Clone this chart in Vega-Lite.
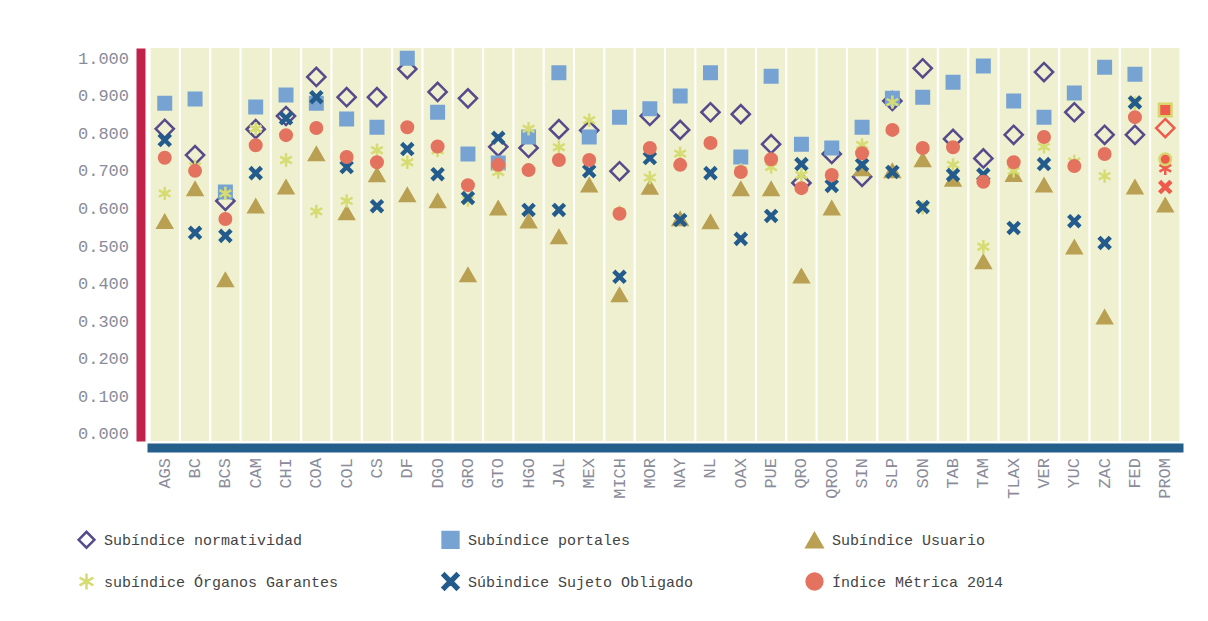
{
  "$schema": "https://vega.github.io/schema/vega-lite/v6.json",
  "width": 1036,
  "height": 393,
  "autosize": {"type": "none"},
  "padding": {"left": 147, "top": 48, "right": 25, "bottom": 180},
  "background": "white",
  "config": {"view": {"stroke": null}, "font": "Liberation Mono"},
  "data": {"values": [
    {"estado":"AGS","serie":"Subíndice normatividad","valor":0.812},
    {"estado":"BC","serie":"Subíndice normatividad","valor":0.742},
    {"estado":"BCS","serie":"Subíndice normatividad","valor":0.620},
    {"estado":"CAM","serie":"Subíndice normatividad","valor":0.811},
    {"estado":"CHI","serie":"Subíndice normatividad","valor":0.846},
    {"estado":"COA","serie":"Subíndice normatividad","valor":0.950},
    {"estado":"COL","serie":"Subíndice normatividad","valor":0.896},
    {"estado":"CS","serie":"Subíndice normatividad","valor":0.896},
    {"estado":"DF","serie":"Subíndice normatividad","valor":0.971},
    {"estado":"DGO","serie":"Subíndice normatividad","valor":0.910},
    {"estado":"GRO","serie":"Subíndice normatividad","valor":0.893},
    {"estado":"GTO","serie":"Subíndice normatividad","valor":0.764},
    {"estado":"HGO","serie":"Subíndice normatividad","valor":0.761},
    {"estado":"JAL","serie":"Subíndice normatividad","valor":0.811},
    {"estado":"MEX","serie":"Subíndice normatividad","valor":0.808},
    {"estado":"MICH","serie":"Subíndice normatividad","valor":0.699},
    {"estado":"MOR","serie":"Subíndice normatividad","valor":0.846},
    {"estado":"NAY","serie":"Subíndice normatividad","valor":0.809},
    {"estado":"NL","serie":"Subíndice normatividad","valor":0.856},
    {"estado":"OAX","serie":"Subíndice normatividad","valor":0.851},
    {"estado":"PUE","serie":"Subíndice normatividad","valor":0.771},
    {"estado":"QRO","serie":"Subíndice normatividad","valor":0.668},
    {"estado":"QROO","serie":"Subíndice normatividad","valor":0.745},
    {"estado":"SIN","serie":"Subíndice normatividad","valor":0.684},
    {"estado":"SLP","serie":"Subíndice normatividad","valor":0.886},
    {"estado":"SON","serie":"Subíndice normatividad","valor":0.973},
    {"estado":"TAB","serie":"Subíndice normatividad","valor":0.785},
    {"estado":"TAM","serie":"Subíndice normatividad","valor":0.733},
    {"estado":"TLAX","serie":"Subíndice normatividad","valor":0.796},
    {"estado":"VER","serie":"Subíndice normatividad","valor":0.963},
    {"estado":"YUC","serie":"Subíndice normatividad","valor":0.856},
    {"estado":"ZAC","serie":"Subíndice normatividad","valor":0.796},
    {"estado":"FED","serie":"Subíndice normatividad","valor":0.796},
    {"estado":"PROM","serie":"Subíndice normatividad","valor":0.814},

    {"estado":"AGS","serie":"Subíndice portales","valor":0.880},
    {"estado":"BC","serie":"Subíndice portales","valor":0.891},
    {"estado":"BCS","serie":"Subíndice portales","valor":0.644},
    {"estado":"CAM","serie":"Subíndice portales","valor":0.870},
    {"estado":"CHI","serie":"Subíndice portales","valor":0.902},
    {"estado":"COA","serie":"Subíndice portales","valor":0.880},
    {"estado":"COL","serie":"Subíndice portales","valor":0.838},
    {"estado":"CS","serie":"Subíndice portales","valor":0.816},
    {"estado":"DF","serie":"Subíndice portales","valor":1.000},
    {"estado":"DGO","serie":"Subíndice portales","valor":0.856},
    {"estado":"GRO","serie":"Subíndice portales","valor":0.745},
    {"estado":"GTO","serie":"Subíndice portales","valor":0.721},
    {"estado":"HGO","serie":"Subíndice portales","valor":0.790},
    {"estado":"JAL","serie":"Subíndice portales","valor":0.961},
    {"estado":"MEX","serie":"Subíndice portales","valor":0.790},
    {"estado":"MICH","serie":"Subíndice portales","valor":0.843},
    {"estado":"MOR","serie":"Subíndice portales","valor":0.865},
    {"estado":"NAY","serie":"Subíndice portales","valor":0.899},
    {"estado":"NL","serie":"Subíndice portales","valor":0.961},
    {"estado":"OAX","serie":"Subíndice portales","valor":0.737},
    {"estado":"PUE","serie":"Subíndice portales","valor":0.952},
    {"estado":"QRO","serie":"Subíndice portales","valor":0.771},
    {"estado":"QROO","serie":"Subíndice portales","valor":0.761},
    {"estado":"SIN","serie":"Subíndice portales","valor":0.816},
    {"estado":"SLP","serie":"Subíndice portales","valor":0.893},
    {"estado":"SON","serie":"Subíndice portales","valor":0.896},
    {"estado":"TAB","serie":"Subíndice portales","valor":0.936},
    {"estado":"TAM","serie":"Subíndice portales","valor":0.979},
    {"estado":"TLAX","serie":"Subíndice portales","valor":0.886},
    {"estado":"VER","serie":"Subíndice portales","valor":0.843},
    {"estado":"YUC","serie":"Subíndice portales","valor":0.907},
    {"estado":"ZAC","serie":"Subíndice portales","valor":0.976},
    {"estado":"FED","serie":"Subíndice portales","valor":0.957},
    {"estado":"PROM","serie":"Subíndice portales","valor":0.862},

    {"estado":"AGS","serie":"Subíndice Usuario","valor":0.565},
    {"estado":"BC","serie":"Subíndice Usuario","valor":0.652},
    {"estado":"BCS","serie":"Subíndice Usuario","valor":0.410},
    {"estado":"CAM","serie":"Subíndice Usuario","valor":0.606},
    {"estado":"CHI","serie":"Subíndice Usuario","valor":0.657},
    {"estado":"COA","serie":"Subíndice Usuario","valor":0.745},
    {"estado":"COL","serie":"Subíndice Usuario","valor":0.588},
    {"estado":"CS","serie":"Subíndice Usuario","valor":0.689},
    {"estado":"DF","serie":"Subíndice Usuario","valor":0.636},
    {"estado":"DGO","serie":"Subíndice Usuario","valor":0.620},
    {"estado":"GRO","serie":"Subíndice Usuario","valor":0.423},
    {"estado":"GTO","serie":"Subíndice Usuario","valor":0.601},
    {"estado":"HGO","serie":"Subíndice Usuario","valor":0.566},
    {"estado":"JAL","serie":"Subíndice Usuario","valor":0.524},
    {"estado":"MEX","serie":"Subíndice Usuario","valor":0.662},
    {"estado":"MICH","serie":"Subíndice Usuario","valor":0.370},
    {"estado":"MOR","serie":"Subíndice Usuario","valor":0.656},
    {"estado":"NAY","serie":"Subíndice Usuario","valor":0.572},
    {"estado":"NL","serie":"Subíndice Usuario","valor":0.564},
    {"estado":"OAX","serie":"Subíndice Usuario","valor":0.652},
    {"estado":"PUE","serie":"Subíndice Usuario","valor":0.652},
    {"estado":"QRO","serie":"Subíndice Usuario","valor":0.420},
    {"estado":"QROO","serie":"Subíndice Usuario","valor":0.601},
    {"estado":"SIN","serie":"Subíndice Usuario","valor":0.705},
    {"estado":"SLP","serie":"Subíndice Usuario","valor":0.700},
    {"estado":"SON","serie":"Subíndice Usuario","valor":0.729},
    {"estado":"TAB","serie":"Subíndice Usuario","valor":0.677},
    {"estado":"TAM","serie":"Subíndice Usuario","valor":0.458},
    {"estado":"TLAX","serie":"Subíndice Usuario","valor":0.690},
    {"estado":"VER","serie":"Subíndice Usuario","valor":0.662},
    {"estado":"YUC","serie":"Subíndice Usuario","valor":0.497},
    {"estado":"ZAC","serie":"Subíndice Usuario","valor":0.311},
    {"estado":"FED","serie":"Subíndice Usuario","valor":0.657},
    {"estado":"PROM","serie":"Subíndice Usuario","valor":0.609},

    {"estado":"AGS","serie":"subíndice Órganos Garantes","valor":0.640},
    {"estado":"BC","serie":"subíndice Órganos Garantes","valor":0.712},
    {"estado":"BCS","serie":"subíndice Órganos Garantes","valor":0.640},
    {"estado":"CAM","serie":"subíndice Órganos Garantes","valor":0.812},
    {"estado":"CHI","serie":"subíndice Órganos Garantes","valor":0.729},
    {"estado":"COA","serie":"subíndice Órganos Garantes","valor":0.592},
    {"estado":"COL","serie":"subíndice Órganos Garantes","valor":0.620},
    {"estado":"CS","serie":"subíndice Órganos Garantes","valor":0.755},
    {"estado":"DF","serie":"subíndice Órganos Garantes","valor":0.723},
    {"estado":"DGO","serie":"subíndice Órganos Garantes","valor":0.755},
    {"estado":"GRO","serie":"subíndice Órganos Garantes","valor":0.622},
    {"estado":"GTO","serie":"subíndice Órganos Garantes","valor":0.697},
    {"estado":"HGO","serie":"subíndice Órganos Garantes","valor":0.812},
    {"estado":"JAL","serie":"subíndice Órganos Garantes","valor":0.763},
    {"estado":"MEX","serie":"subíndice Órganos Garantes","valor":0.835},
    {"estado":"MICH","serie":"subíndice Órganos Garantes","valor":0.590},
    {"estado":"MOR","serie":"subíndice Órganos Garantes","valor":0.682},
    {"estado":"NAY","serie":"subíndice Órganos Garantes","valor":0.746},
    {"estado":"NL","serie":"subíndice Órganos Garantes","valor":0.775},
    {"estado":"OAX","serie":"subíndice Órganos Garantes","valor":0.702},
    {"estado":"PUE","serie":"subíndice Órganos Garantes","valor":0.710},
    {"estado":"QRO","serie":"subíndice Órganos Garantes","valor":0.689},
    {"estado":"QROO","serie":"subíndice Órganos Garantes","valor":0.687},
    {"estado":"SIN","serie":"subíndice Órganos Garantes","valor":0.769},
    {"estado":"SLP","serie":"subíndice Órganos Garantes","valor":0.883},
    {"estado":"SON","serie":"subíndice Órganos Garantes","valor":0.602},
    {"estado":"TAB","serie":"subíndice Órganos Garantes","valor":0.716},
    {"estado":"TAM","serie":"subíndice Órganos Garantes","valor":0.498},
    {"estado":"TLAX","serie":"subíndice Órganos Garantes","valor":0.700},
    {"estado":"VER","serie":"subíndice Órganos Garantes","valor":0.764},
    {"estado":"YUC","serie":"subíndice Órganos Garantes","valor":0.725},
    {"estado":"ZAC","serie":"subíndice Órganos Garantes","valor":0.686},
    {"estado":"FED","serie":"subíndice Órganos Garantes","valor":0.880},
    {"estado":"PROM","serie":"subíndice Órganos Garantes","valor":0.707},

    {"estado":"AGS","serie":"Súbindice Sujeto Obligado","valor":0.782},
    {"estado":"BC","serie":"Súbindice Sujeto Obligado","valor":0.535},
    {"estado":"BCS","serie":"Súbindice Sujeto Obligado","valor":0.527},
    {"estado":"CAM","serie":"Súbindice Sujeto Obligado","valor":0.694},
    {"estado":"CHI","serie":"Súbindice Sujeto Obligado","valor":0.840},
    {"estado":"COA","serie":"Súbindice Sujeto Obligado","valor":0.896},
    {"estado":"COL","serie":"Súbindice Sujeto Obligado","valor":0.710},
    {"estado":"CS","serie":"Súbindice Sujeto Obligado","valor":0.606},
    {"estado":"DF","serie":"Súbindice Sujeto Obligado","valor":0.758},
    {"estado":"DGO","serie":"Súbindice Sujeto Obligado","valor":0.691},
    {"estado":"GRO","serie":"Súbindice Sujeto Obligado","valor":0.628},
    {"estado":"GTO","serie":"Súbindice Sujeto Obligado","valor":0.788},
    {"estado":"HGO","serie":"Súbindice Sujeto Obligado","valor":0.596},
    {"estado":"JAL","serie":"Súbindice Sujeto Obligado","valor":0.596},
    {"estado":"MEX","serie":"Súbindice Sujeto Obligado","valor":0.699},
    {"estado":"MICH","serie":"Súbindice Sujeto Obligado","valor":0.418},
    {"estado":"MOR","serie":"Súbindice Sujeto Obligado","valor":0.734},
    {"estado":"NAY","serie":"Súbindice Sujeto Obligado","valor":0.569},
    {"estado":"NL","serie":"Súbindice Sujeto Obligado","valor":0.694},
    {"estado":"OAX","serie":"Súbindice Sujeto Obligado","valor":0.519},
    {"estado":"PUE","serie":"Súbindice Sujeto Obligado","valor":0.580},
    {"estado":"QRO","serie":"Súbindice Sujeto Obligado","valor":0.718},
    {"estado":"QROO","serie":"Súbindice Sujeto Obligado","valor":0.660},
    {"estado":"SIN","serie":"Súbindice Sujeto Obligado","valor":0.716},
    {"estado":"SLP","serie":"Súbindice Sujeto Obligado","valor":0.697},
    {"estado":"SON","serie":"Súbindice Sujeto Obligado","valor":0.604},
    {"estado":"TAB","serie":"Súbindice Sujeto Obligado","valor":0.689},
    {"estado":"TAM","serie":"Súbindice Sujeto Obligado","valor":0.690},
    {"estado":"TLAX","serie":"Súbindice Sujeto Obligado","valor":0.548},
    {"estado":"VER","serie":"Súbindice Sujeto Obligado","valor":0.718},
    {"estado":"YUC","serie":"Súbindice Sujeto Obligado","valor":0.566},
    {"estado":"ZAC","serie":"Súbindice Sujeto Obligado","valor":0.508},
    {"estado":"FED","serie":"Súbindice Sujeto Obligado","valor":0.882},
    {"estado":"PROM","serie":"Súbindice Sujeto Obligado","valor":0.657},

    {"estado":"AGS","serie":"Índice Métrica 2014","valor":0.735},
    {"estado":"BC","serie":"Índice Métrica 2014","valor":0.700},
    {"estado":"BCS","serie":"Índice Métrica 2014","valor":0.572},
    {"estado":"CAM","serie":"Índice Métrica 2014","valor":0.768},
    {"estado":"CHI","serie":"Índice Métrica 2014","valor":0.795},
    {"estado":"COA","serie":"Índice Métrica 2014","valor":0.814},
    {"estado":"COL","serie":"Índice Métrica 2014","valor":0.737},
    {"estado":"CS","serie":"Índice Métrica 2014","valor":0.723},
    {"estado":"DF","serie":"Índice Métrica 2014","valor":0.816},
    {"estado":"DGO","serie":"Índice Métrica 2014","valor":0.765},
    {"estado":"GRO","serie":"Índice Métrica 2014","valor":0.662},
    {"estado":"GTO","serie":"Índice Métrica 2014","valor":0.716},
    {"estado":"HGO","serie":"Índice Métrica 2014","valor":0.702},
    {"estado":"JAL","serie":"Índice Métrica 2014","valor":0.729},
    {"estado":"MEX","serie":"Índice Métrica 2014","valor":0.729},
    {"estado":"MICH","serie":"Índice Métrica 2014","valor":0.586},
    {"estado":"MOR","serie":"Índice Métrica 2014","valor":0.761},
    {"estado":"NAY","serie":"Índice Métrica 2014","valor":0.716},
    {"estado":"NL","serie":"Índice Métrica 2014","valor":0.774},
    {"estado":"OAX","serie":"Índice Métrica 2014","valor":0.697},
    {"estado":"PUE","serie":"Índice Métrica 2014","valor":0.731},
    {"estado":"QRO","serie":"Índice Métrica 2014","valor":0.654},
    {"estado":"QROO","serie":"Índice Métrica 2014","valor":0.689},
    {"estado":"SIN","serie":"Índice Métrica 2014","valor":0.747},
    {"estado":"SLP","serie":"Índice Métrica 2014","valor":0.809},
    {"estado":"SON","serie":"Índice Métrica 2014","valor":0.761},
    {"estado":"TAB","serie":"Índice Métrica 2014","valor":0.763},
    {"estado":"TAM","serie":"Índice Métrica 2014","valor":0.671},
    {"estado":"TLAX","serie":"Índice Métrica 2014","valor":0.723},
    {"estado":"VER","serie":"Índice Métrica 2014","valor":0.790},
    {"estado":"YUC","serie":"Índice Métrica 2014","valor":0.713},
    {"estado":"ZAC","serie":"Índice Métrica 2014","valor":0.745},
    {"estado":"FED","serie":"Índice Métrica 2014","valor":0.843},
    {"estado":"PROM","serie":"Índice Métrica 2014","valor":0.731}
  ]},
  "layer": [
    {
      "transform": [{"filter": "datum.serie === 'Subíndice normatividad'"}],
      "mark": {"type": "bar", "color": "#eff0cf"},
      "encoding": {
        "x": {
          "field": "estado", "type": "nominal", "sort": null,
          "scale": {"paddingInner": 0.07, "paddingOuter": 0.12},
          "axis": {
            "title": null, "labelAngle": -90, "ticks": false,
            "domainColor": "#245e8a", "domainWidth": 9, "domainCap": "butt", "offset": 6.5,
            "labelPadding": 10, "labelFont": "Liberation Mono", "labelFontSize": 17,
            "labelColor": "#8a8c9a", "labelOverlap": false
          }
        },
        "y": {
          "datum": 1.027, "type": "quantitative",
          "scale": {"domain": [-0.019, 1.027], "nice": false, "zero": false},
          "axis": {
            "title": null, "values": [0, 0.1, 0.2, 0.3, 0.4, 0.5, 0.6, 0.7, 0.8, 0.9, 1.0],
            "tickCount": 11, "format": ".3f", "grid": false, "ticks": false,
            "domainColor": "#c0224a", "domainWidth": 9, "domainCap": "butt", "offset": 6.5,
            "labelPadding": 12, "labelFont": "Liberation Mono", "labelFontSize": 17,
            "labelColor": "#8a8c9a", "labelOverlap": false, "labelFlush": false
          }
        },
        "y2": {"datum": -0.019}
      }
    },
    {
      "mark": {"type": "point", "filled": true, "strokeWidth": 2.5, "opacity": 1},
      "encoding": {
        "x": {
          "field": "estado", "type": "nominal", "sort": null,
          "axis": {
            "title": null, "labelAngle": -90, "ticks": false,
            "domainColor": "#245e8a", "domainWidth": 9, "domainCap": "butt", "offset": 6.5,
            "labelPadding": 10, "labelFont": "Liberation Mono", "labelFontSize": 17,
            "labelColor": "#8a8c9a", "labelOverlap": false
          }
        },
        "y": {
          "field": "valor", "type": "quantitative",
          "axis": {
            "title": null, "values": [0, 0.1, 0.2, 0.3, 0.4, 0.5, 0.6, 0.7, 0.8, 0.9, 1.0],
            "tickCount": 11, "format": ".3f", "grid": false, "ticks": false,
            "domainColor": "#c0224a", "domainWidth": 9, "domainCap": "butt", "offset": 6.5,
            "labelPadding": 12, "labelFont": "Liberation Mono", "labelFontSize": 17,
            "labelColor": "#8a8c9a", "labelOverlap": false, "labelFlush": false
          }
        },
        "shape": {
          "field": "serie", "type": "nominal",
          "scale": {
            "domain": ["Subíndice normatividad", "Subíndice portales", "Subíndice Usuario", "subíndice Órganos Garantes", "Súbindice Sujeto Obligado", "Índice Métrica 2014"],
            "range": ["diamond", "square", "triangle-up", "M0,-1L0,1M-0.87,-0.5L0.87,0.5M-0.87,0.5L0.87,-0.5", "M-0.75,-1L0,-0.25L0.75,-1L1,-0.75L0.25,0L1,0.75L0.75,1L0,0.25L-0.75,1L-1,0.75L-0.25,0L-1,-0.75Z", "circle"]
          },
          "legend": {
            "title": null, "orient": "none", "legendX": -70, "legendY": 482,
            "columns": 3, "direction": "horizontal", "gridAlign": "all",
            "columnPadding": 98, "rowPadding": 15, "symbolSize": 250, "symbolStrokeWidth": 2.5,
            "labelFont": "Liberation Mono", "labelFontSize": 15, "labelColor": "#444444",
            "labelOffset": 8, "labelLimit": 400
          }
        },
        "fill": {
          "field": "serie", "type": "nominal",
          "scale": {
            "domain": ["Subíndice normatividad", "Subíndice portales", "Subíndice Usuario", "subíndice Órganos Garantes", "Súbindice Sujeto Obligado", "Índice Métrica 2014"],
            "range": ["transparent", "#77a3d3", "#b9a052", "#d6dc72", "#225b8c", "#e3735f"]
          },
          "condition": [
            {"test": "datum.estado === 'PROM' && datum.serie === 'Subíndice normatividad'", "value": "transparent"},
            {"test": "datum.estado === 'PROM' && datum.serie !== 'Subíndice Usuario'", "value": "#ee5b4c"}
          ],
          "legend": {
            "title": null, "orient": "none", "legendX": -70, "legendY": 482,
            "columns": 3, "direction": "horizontal", "gridAlign": "all",
            "columnPadding": 98, "rowPadding": 15, "symbolSize": 250, "symbolStrokeWidth": 2.5,
            "labelFont": "Liberation Mono", "labelFontSize": 15, "labelColor": "#444444",
            "labelOffset": 8, "labelLimit": 400
          }
        },
        "stroke": {
          "field": "serie", "type": "nominal",
          "scale": {
            "domain": ["Subíndice normatividad", "Subíndice portales", "Subíndice Usuario", "subíndice Órganos Garantes", "Súbindice Sujeto Obligado", "Índice Métrica 2014"],
            "range": ["#554a8b", "#77a3d3", "#b9a052", "#d6dc72", "#225b8c", "#e3735f"]
          },
          "condition": [
            {"test": "datum.estado === 'PROM' && (datum.serie === 'Subíndice portales' || datum.serie === 'Índice Métrica 2014')", "value": "#d8d56c"},
            {"test": "datum.estado === 'PROM' && datum.serie !== 'Subíndice Usuario'", "value": "#ee5b4c"}
          ],
          "legend": {
            "title": null, "orient": "none", "legendX": -70, "legendY": 482,
            "columns": 3, "direction": "horizontal", "gridAlign": "all",
            "columnPadding": 98, "rowPadding": 15, "symbolSize": 250, "symbolStrokeWidth": 2.5,
            "labelFont": "Liberation Mono", "labelFontSize": 15, "labelColor": "#444444",
            "labelOffset": 8, "labelLimit": 400
          }
        },
        "size": {
          "condition": [
            {"test": "datum.serie === 'Subíndice normatividad'", "value": 330},
            {"test": "datum.serie === 'Subíndice portales'", "value": 156},
            {"test": "datum.serie === 'Subíndice Usuario'", "value": 200},
            {"test": "datum.serie === 'subíndice Órganos Garantes'", "value": 180},
            {"test": "datum.serie === 'Súbindice Sujeto Obligado'", "value": 121}
          ],
          "value": 132
        }
      }
    }
  ]
}
